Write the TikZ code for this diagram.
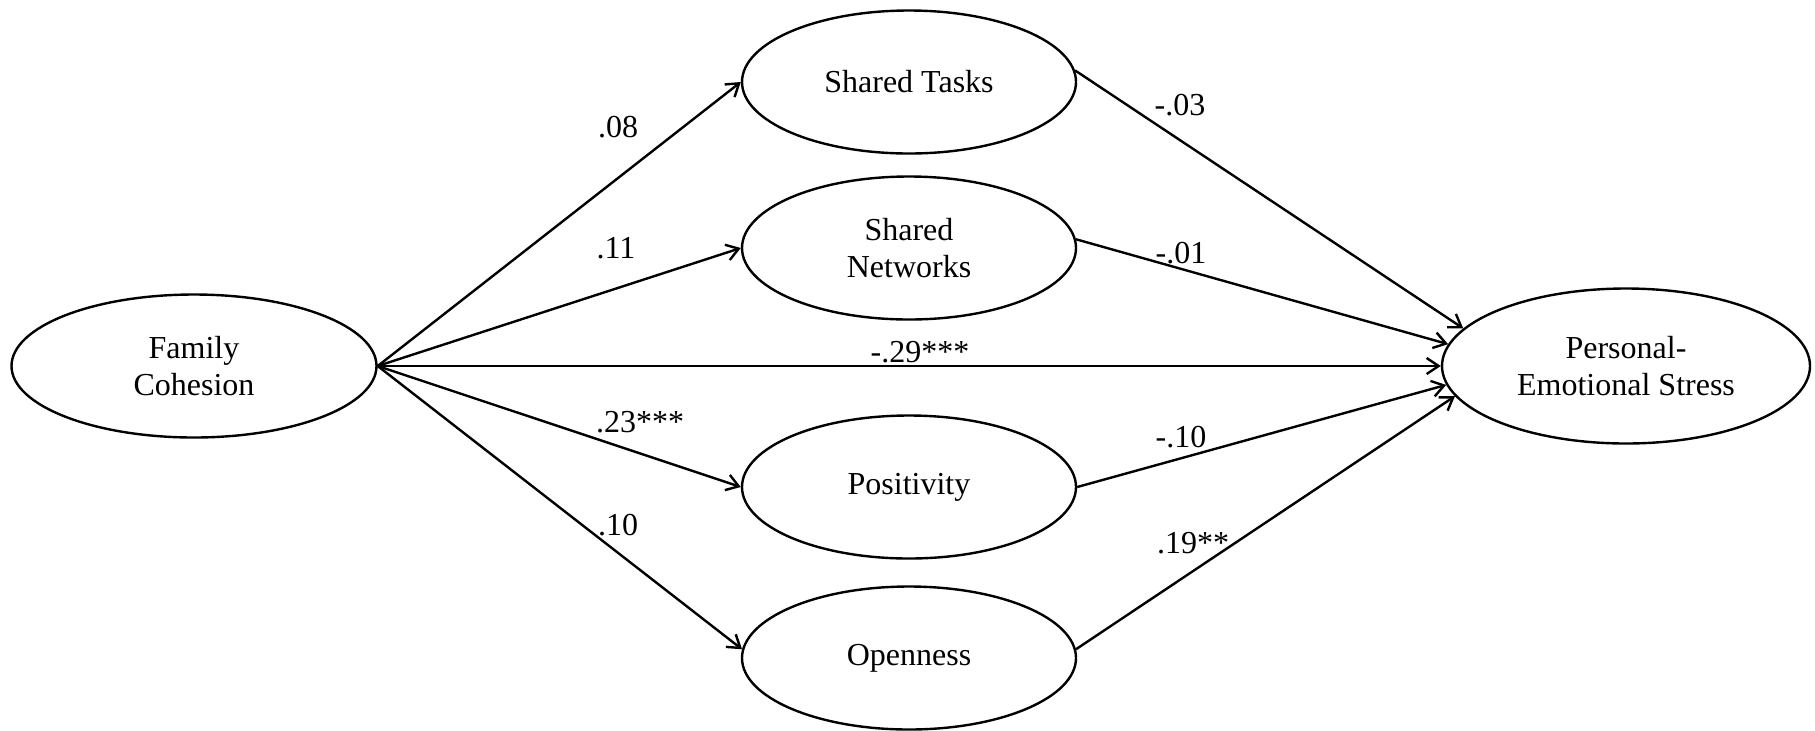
\documentclass[tikz,border=0pt]{standalone}
\usepackage{fontspec}
\setmainfont{Liberation Serif}
\usetikzlibrary{shapes.geometric,arrows.meta}
\begin{document}
\begin{tikzpicture}[x=0.5pt,y=-0.5pt,
  var/.style={draw,ellipse,line width=1.2pt,inner sep=0pt,align=center,
    font=\fontsize{16}{18.5}\selectfont},
  medvar/.style={var,minimum width=167pt,minimum height=71.5pt},
  link/.style={line width=1.2pt,-{Straight Barb[length=6pt,width=8pt,line width=1.2pt]}},
  coef/.style={anchor=base,inner sep=0pt,font=\fontsize{16}{18.5}\selectfont}]
\useasboundingbox (0,0) rectangle (1815,730);
\node[var,minimum width=182.5pt,minimum height=71.5pt] (fc) at (194,366) {Family\\Cohesion};
\node[medvar] (st) at (909,82) {Shared Tasks};
\node[medvar] (sn) at (909,248) {Shared\\Networks};
\node[medvar] (po) at (909,487) {Positivity};
\node[medvar] (op) at (909,658) {Openness};
\node[var,minimum width=184pt,minimum height=77.5pt] (pes) at (1626,366) {Personal-\\Emotional Stress};

\draw[link] (fc.east) -- (st.west);
\draw[link] (fc.east) -- (sn.west);
\draw[link] (fc.east) -- (pes.west);
\draw[link] (fc.east) -- (po.west);
\draw[link] (fc.east) -- (op.177);
\draw[link] (st.4) -- (pes.167);
\draw[link] (sn.3) -- (pes.173);
\draw[link] (po.east) -- (pes.186);
\draw[link] (op.3) -- (pes.190);

\node[coef] (c1) at (618,137) {.08};
\node[coef] (c2) at (616,258) {.11};
\node[coef] (c3) at (920,362) {-.29***};
\node[coef] (c4) at (640,432) {.23***};
\node[coef] (c5) at (618,535) {.10};
\node[coef] (c6) at (1180,115) {-.03};
\node[coef] (c7) at (1181,263) {-.01};
\node[coef] (c8) at (1181,447) {-.10};
\node[coef] (c9) at (1193,553) {.19**};
\end{tikzpicture}
\end{document}
